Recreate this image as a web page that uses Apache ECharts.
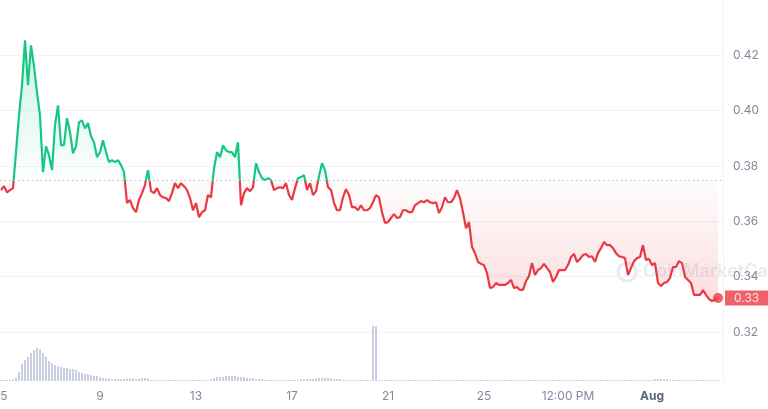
<!DOCTYPE html>
<html><head><meta charset="utf-8">
<script src="https://cdn.jsdelivr.net/npm/echarts@6/dist/echarts.min.js"></script>
<style>html,body{margin:0;padding:0;background:#fff}#c{width:768px;height:409px}</style>
</head><body><div id="c"></div>
<script>
// time: hours relative to Jul 5 00:00, regular 3-hour samples
const startHour = -3;
const stepHours = 3;
const baseline = 0.3747;
const xMin = -4, xMax = 719;

const priceJul4to10 = [0.3713,0.3727,0.3705,0.3713,0.3720,0.3850,0.3983,0.4092,0.4254,0.4092,0.4236,0.4160,0.4066,0.3983,0.3778,0.3871,0.3839,0.3785,0.3947,0.4019,0.3875,0.3875,0.3973,0.3922,0.3846,0.3871,0.3958,0.3965,0.3936,0.3955,0.3908,0.3886,0.3832,0.3850,0.3893,0.3850,0.3814,0.3821,0.3814,0.3821,0.3803,0.3778,0.3666,0.3677,0.3648,0.3633,0.3677,0.3702,0.3731];
const priceJul11to16 = [0.3785,0.3709,0.3702,0.3720,0.3695,0.3687,0.3684,0.3673,0.3702,0.3738,0.3720,0.3738,0.3727,0.3713,0.3684,0.3640,0.3666,0.3615,0.3633,0.3640,0.3695,0.3687,0.3792,0.3850,0.3832,0.3875,0.3857,0.3850,0.3850,0.3832,0.3886,0.3658,0.3702,0.3720,0.3709,0.3723,0.3810,0.3778,0.3756,0.3749,0.3756,0.3749,0.3713,0.3720,0.3723,0.3720,0.3738,0.3695];
const priceJul17to22 = [0.3677,0.3720,0.3756,0.3760,0.3767,0.3713,0.3738,0.3695,0.3709,0.3763,0.3810,0.3785,0.3723,0.3713,0.3666,0.3640,0.3640,0.3687,0.3716,0.3695,0.3651,0.3651,0.3640,0.3658,0.3640,0.3640,0.3648,0.3669,0.3695,0.3687,0.3633,0.3594,0.3597,0.3612,0.3626,0.3612,0.3615,0.3640,0.3640,0.3633,0.3633,0.3658,0.3666,0.3673,0.3669,0.3677,0.3669];
const priceJul23to28 = [0.3666,0.3669,0.3630,0.3651,0.3687,0.3669,0.3669,0.3684,0.3713,0.3684,0.3633,0.3575,0.3597,0.3507,0.3485,0.3453,0.3446,0.3442,0.3413,0.3359,0.3362,0.3377,0.3370,0.3370,0.3370,0.3377,0.3388,0.3359,0.3362,0.3352,0.3352,0.3384,0.3402,0.3449,0.3406,0.3424,0.3431,0.3446,0.3431,0.3417,0.3381,0.3399,0.3424,0.3424,0.3424,0.3442,0.3471,0.3482,0.3453,0.3464];
const priceJul29toAug3 = [0.3478,0.3482,0.3471,0.3474,0.3453,0.3485,0.3503,0.3525,0.3514,0.3514,0.3503,0.3485,0.3474,0.3471,0.3467,0.3406,0.3431,0.3456,0.3467,0.3471,0.3514,0.3460,0.3464,0.3442,0.3449,0.3377,0.3366,0.3377,0.3381,0.3395,0.3435,0.3435,0.3456,0.3449,0.3399,0.3388,0.3377,0.3334,0.3334,0.3334,0.3352,0.3334,0.3319,0.3312,0.3316,0.3323];

const volumeJul4to10 = [1,1,1,1,1.5,3,9,17,21,24,28,31,33,32,28,24,20,18,16,15,14,13,13,12,12,11,9,8,7,7,6,5,5,4,3,2.5,2.5,2,2,2,2,2,2.5,2.5,2.5,2,2.5,3,3];
const volumeJul11to16 = [2.5,1,1,1,1,1,1,1,1,1,1,1,1,1,1,1,1,1,1,1,1,2,3,4,4,4,5,5,5,5,4,4,4,3,3,3,2,2,2,1,1,1,1,1,1,1,1,1];
const volumeJul17to22 = [1,1,1,2,2,2,2,2,2.5,3,3,3,3,2.5,2,2,2,1,1,1,1,1,1,1,1,1,1,55,55,1,1,1,1,1,1,1,1,1,1,1,1,1,1,1,1,1,1];
const volumeJul23to28 = [1,1,1,1,1,1,1,1,1,1,1,1,1,1,1,1,1,1,1,1,1,1,1,1,1,1,1,1,1,1,1,1,1,1,1,1,1,1,1,1,1,1,1,1,1,1,1,1,1,1];
const volumeJul29toAug3 = [1,1,1,1,1,1,1,1,1,1,1,1,1,1,1,1,1,1,1,1,1,1,1,1,2,2,2,2,2,1,1,1,1,1,1,1,1,1,1,1,1,1,1,1,1,1];

const tickHours = [0,96,192,288,384,480,564,648];
const tickLabels = ['5','9','13','17','21','25','12:00 PM','Aug'];
const yTicks = [0.32,0.34,0.36,0.38,0.40,0.42];

const price = [].concat(priceJul4to10, priceJul11to16, priceJul17to22, priceJul23to28, priceJul29toAug3);
const volume = [].concat(volumeJul4to10, volumeJul11to16, volumeJul17to22, volumeJul23to28, volumeJul29toAug3);
const hours = price.map((_, i) => startHour + i * stepHours);
const priceData = price.map((p, i) => [hours[i], p]);
const volData = volume.map((v, i) => [hours[i], v]);
const last = priceData[priceData.length - 1];

const GREEN = '#16c784', RED = '#ea3943';
const pMax = Math.max(...price, baseline), pMin = Math.min(...price, baseline);
const f = (pMax - baseline) / (pMax - pMin);
const areaGrad = new echarts.graphic.LinearGradient(0, 0, 0, 1, [
  {offset: 0, color: 'rgba(22,199,132,0.30)'},
  {offset: f, color: 'rgba(22,199,132,0.02)'},
  {offset: f, color: 'rgba(234,57,67,0.02)'},
  {offset: 1, color: 'rgba(234,57,67,0.24)'}
]);

const FONT = 'Inter';
const chart = echarts.init(document.getElementById('c'), null, {renderer: 'canvas'});
chart.setOption({
  animation: false,
  backgroundColor: '#fff',
  grid: [
    {left: 0, right: 45, top: 0, height: 332, outerBoundsMode: 'none', containLabel: false},
    {left: 0, right: 45, top: 326, height: 55, outerBoundsMode: 'none', containLabel: false}
  ],
  xAxis: [
    {type: 'value', gridIndex: 0, min: xMin, max: xMax, show: false},
    {type: 'value', gridIndex: 1, min: xMin, max: xMax,
     axisLine: {show: false}, axisTick: {show: false}, splitLine: {show: false},
     axisLabel: {
       customValues: tickHours, margin: 9, fontSize: 12, color: '#808a9d', fontFamily: FONT,
       formatter: v => { const i = tickHours.indexOf(v); if (i < 0) return ''; return tickLabels[i] === 'Aug' ? '{b|Aug}' : tickLabels[i]; },
       rich: {b: {fontWeight: 'bold', color: '#58667e', fontSize: 12, fontFamily: FONT}}
     }}
  ],
  yAxis: [
    {type: 'value', gridIndex: 0, position: 'right', min: 0.32, max: 0.44, interval: 0.02,
     axisLine: {show: true, onZero: false, lineStyle: {color: '#eff2f5'}}, axisTick: {show: false},
     splitLine: {show: true, showMaxLine: false, lineStyle: {color: '#f1f3f6'}},
     axisLabel: {margin: 10, fontSize: 12, color: '#808a9d', fontFamily: FONT,
       formatter: v => yTicks.some(t => Math.abs(t - v) < 1e-6) ? v.toFixed(2) : ''}},
    {type: 'value', gridIndex: 1, position: 'right', min: 0, max: 55,
     axisLine: {show: true, onZero: false, lineStyle: {color: '#eff2f5'}}, axisTick: {show: false},
     splitLine: {show: false}, axisLabel: {show: false}}
  ],
  visualMap: {
    type: 'piecewise', show: false, seriesIndex: 0, dimension: 1,
    pieces: [{gt: baseline, lte: 1, color: GREEN}, {gte: 0, lte: baseline, color: RED}],
    outOfRange: {color: RED}
  },
  graphic: [
    {type: 'circle', z: 0, shape: {cx: 627, cy: 272, r: 9}, style: {fill: 'none', stroke: 'rgba(150,160,180,0.22)', lineWidth: 3}},
    {type: 'text', z: 0, x: 643, y: 263, style: {text: 'CoinMarketCap', fontSize: 18, fontWeight: 600, fontFamily: FONT, fill: 'rgba(150,160,180,0.22)'}}
  ],
  series: [
    {type: 'line', xAxisIndex: 0, yAxisIndex: 0, data: priceData, showSymbol: false, symbol: 'none',
     lineStyle: {width: 2.2}, areaStyle: {origin: baseline, color: areaGrad},
     markLine: {silent: true, symbol: ['none', 'none'], animation: false, label: {show: false},
       lineStyle: {type: [1.5, 3], color: '#b4bccb', width: 1},
       data: [[{coord: [xMin, baseline]}, {coord: [xMax, baseline]}]]}},
    {type: 'scatter', xAxisIndex: 0, yAxisIndex: 0, data: [last], symbolSize: 10, clip: false, z: 5,
     itemStyle: {color: RED},
     label: {show: true, position: 'right', distance: 2, formatter: () => last[1].toFixed(2),
       backgroundColor: RED, color: '#fff', fontSize: 12, fontFamily: FONT,
       padding: [2, 9, 1, 9], lineHeight: 12}},
    {type: 'bar', xAxisIndex: 1, yAxisIndex: 1, data: volData, barWidth: 2, itemStyle: {color: '#cbcee2'}}
  ]
});
</script></body></html>
